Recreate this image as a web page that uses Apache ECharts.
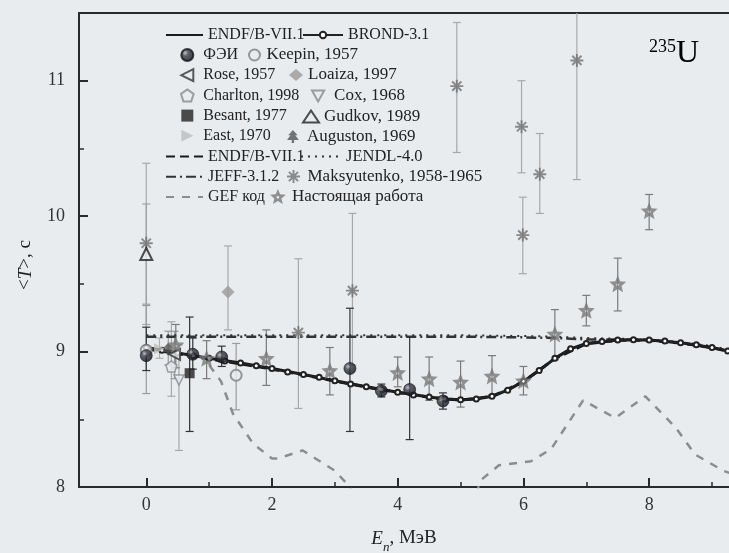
<!DOCTYPE html>
<html>
<head>
<meta charset="utf-8">
<script src="https://cdn.jsdelivr.net/npm/echarts@6/dist/echarts.min.js"></script>
<style>
  html, body { margin: 0; padding: 0; background: #e8ecef; }
  #chart { width: 729px; height: 553px; }
</style>
</head>
<body>
<div id="chart"></div>
<script>
// tick values
const xMajorTicks = [0, 2, 4, 6, 8];
const xMinorTicks = [1, 3, 5, 7, 9];
const yMajorTicks = [8, 9, 10, 11];
const yMinorTicks = [8.5, 9.5, 10.5];

// evaluated curves [E, T]
const endfSolid = [[0,9.03],[0.25,9.01],[0.5,8.99],[0.75,8.97],[1,8.95],[1.5,8.915],[2,8.875],[2.5,8.83],[3,8.785],[3.5,8.74],[4,8.7],[4.5,8.665],[4.75,8.65],[5,8.645],[5.25,8.65],[5.5,8.67],[5.75,8.715],[6,8.78],[6.25,8.86],[6.5,8.95],[6.75,9.02],[7,9.06],[7.5,9.085],[8,9.085],[8.5,9.065],[9,9.03],[9.3,9.0]];
const endfDash = [[0,9.02],[0.5,8.985],[1,8.945],[1.5,8.91],[2,8.87],[2.5,8.828],[3,8.782],[3.5,8.738],[4,8.698],[4.5,8.662],[5,8.642],[5.5,8.668],[6,8.778],[6.5,8.948],[7,9.058],[7.5,9.083],[8,9.083],[8.5,9.063],[9,9.028],[9.3,8.998]];
const brond = [[0,9.03],[0.25,9.01],[0.5,8.99],[0.75,8.97],[1,8.95],[1.25,8.93],[1.5,8.915],[1.75,8.895],[2,8.875],[2.25,8.85],[2.5,8.83],[2.75,8.81],[3,8.785],[3.25,8.76],[3.5,8.74],[3.75,8.72],[4,8.7],[4.25,8.68],[4.5,8.665],[4.75,8.65],[5,8.645],[5.25,8.65],[5.5,8.67],[5.75,8.715],[6,8.78],[6.25,8.86],[6.5,8.95],[6.75,9.02],[7,9.06],[7.25,9.075],[7.5,9.085],[7.75,9.088],[8,9.085],[8.25,9.078],[8.5,9.065],[8.75,9.05],[9,9.03],[9.25,9.005]];
const jendl = [[0,9.12],[1,9.12],[2,9.12],[3,9.12],[4,9.12],[5,9.12],[6,9.115],[6.5,9.11],[7,9.1],[7.5,9.095],[8,9.09],[8.5,9.07],[9,9.04],[9.3,9.01]];
const jeff = [[0,9.11],[1,9.11],[2,9.11],[3,9.11],[4,9.11],[5,9.11],[6,9.105],[6.5,9.1],[7,9.09],[7.5,9.09],[8,9.085],[8.5,9.065],[9,9.03],[9.3,9.0]];
const gef = [[1.0,8.9],[1.19,8.78],[1.38,8.54],[1.7,8.32],[2.0,8.21],[2.09,8.21],[2.49,8.27],[3.0,8.12],[3.22,8.01],[3.3,7.95],[4.2,null],[5.25,7.95],[5.32,8.05],[5.61,8.16],[6.12,8.19],[6.44,8.28],[6.95,8.64],[7.46,8.51],[7.94,8.67],[8.42,8.44],[8.73,8.24],[9.18,8.12],[9.3,8.1]];

// measurements [E, T, low, high]
const fei = [[0,8.97,8.86,9.18],[0.74,8.98,8.87,9.1],[1.2,8.96,8.89,9.04],[3.24,8.875,8.41,9.32],[3.74,8.71,8.665,8.76],[4.19,8.72,8.35,9.11],[4.72,8.635,8.575,8.695]];
const keepin = [[0,9.01,8.69,9.34],[1.43,8.825,8.57,9.06]];
const rose = [[0.45,8.98,8.8,9.15]];
const loaiza = [[1.3,9.44,9.16,9.78]];
const charlton = [[0.4,8.89,8.67,9.22]];
const cox = [[0.52,8.79,8.27,9.05]];
const besant = [[0.69,8.84,8.41,9.255]];
const gudkov = [[0,9.72,9.35,10.09]];
const east = [[0.21,9.02,8.95,9.1]];
const auguston = [[0.35,9.02,8.9,9.15]];
const maks = [[0,9.8,9.2,10.39],[2.42,9.14,8.58,9.685],[3.28,9.45,8.9,10.02],[4.94,10.96,10.47,11.43],[5.97,10.66,10.32,11.0],[5.99,9.86,9.575,10.14],[6.26,10.31,10.02,10.61],[6.85,11.15,10.27,11.7]];
const present = [[0.47,9.05,8.88,9.2],[0.96,8.95,8.8,9.08],[1.91,8.95,8.75,9.16],[2.92,8.86,8.68,9.03],[4.0,8.845,8.74,8.96],[4.5,8.8,8.64,8.96],[5.0,8.775,8.59,8.93],[5.5,8.82,8.68,8.97],[6.0,8.785,8.68,8.89],[6.5,9.13,8.94,9.31],[7.0,9.305,9.19,9.415],[7.5,9.5,9.3,9.69],[8.0,10.04,9.9,10.16]];

const bg = '#e8ecef';
const serif = 'Liberation Serif';
const chart = echarts.init(document.getElementById('chart'));

const starPath = 'path://M0,-10 L2.645,-3.641 L9.511,-3.09 L4.28,1.391 L5.878,8.09 L0,4.5 L-5.878,8.09 L-4.28,1.391 L-9.511,-3.09 L-2.645,-3.641 Z M0,-1.8 L-1.712,-0.556 L-1.058,1.456 L1.058,1.456 L1.712,-0.556 Z';
const asteriskPath = 'path://M-10,-1.5 L10,-1.5 L10,1.5 L-10,1.5 Z M-1.5,-10 L1.5,-10 L1.5,10 L-1.5,10 Z M8.13,6.01 L6.01,8.13 L-8.13,-6.01 L-6.01,-8.13 Z M-8.13,6.01 L6.01,-8.13 L8.13,-6.01 L-6.01,8.13 Z';
const pentagonPath = 'path://M5,0 L10,3.6 L8.1,9.5 L1.9,9.5 L0,3.6 Z';
const leftTriPath = 'path://M10,0 L0,5 L10,10 Z';
const rightTriPath = 'path://M0,0 L10,5 L0,10 Z';
const downTriPath = 'path://M0,0 L10,0 L5,9 Z';
const squarePath = 'path://M0,0 L10,0 L10,10 L0,10 Z';
const treePath = 'path://M5,0 L9,4.5 L7,4.5 L10,8.5 L6,8.5 L6,11 L4,11 L4,8.5 L0,8.5 L3,4.5 L1,4.5 Z';

function errBars(color) {
  return function (params, api) {
    const x = api.value(0), lo = api.value(2), hi = api.value(3);
    const p1 = api.coord([x, hi]), p2 = api.coord([x, lo]);
    const s = { stroke: color, lineWidth: 1.2 };
    const c = 4;
    return {
      type: 'group',
      children: [
        { type: 'line', shape: { x1: p1[0], y1: p1[1], x2: p2[0], y2: p2[1] }, style: s },
        { type: 'line', shape: { x1: p1[0] - c, y1: p1[1], x2: p1[0] + c, y2: p1[1] }, style: s },
        { type: 'line', shape: { x1: p2[0] - c, y1: p2[1], x2: p2[0] + c, y2: p2[1] }, style: s }
      ]
    };
  };
}

function errSeries(name, data, color) {
  return {
    name: name + ' err', type: 'custom', data: data, z: 1, clip: true, silent: true,
    encode: { x: 0, y: [2, 3] }, renderItem: errBars(color)
  };
}

function pointSeries(name, data, symbol, size, itemStyle) {
  return {
    name: name, type: 'scatter', data: data, z: 4, symbol: symbol, symbolSize: size,
    encode: { x: 0, y: 1 }, itemStyle: itemStyle
  };
}

const feiFill = new echarts.graphic.RadialGradient(0.35, 0.35, 0.65, [
  { offset: 0, color: '#b8b8c0' }, { offset: 0.35, color: '#3a3a44' }, { offset: 1, color: '#15151c' }
]);

const series = [
  errSeries('Maksyutenko', maks, '#a8a8a8'),
  errSeries('Keepin', keepin, '#9a9a9a'),
  errSeries('Loaiza', loaiza, '#a8a8a8'),
  errSeries('Charlton', charlton, '#a8a8a8'),
  errSeries('Cox', cox, '#a8a8a8'),
  errSeries('Gudkov', gudkov, '#a0a0a0'),
  errSeries('East', east, '#b0b0b0'),
  errSeries('Auguston', auguston, '#999'),
  errSeries('Rose', rose, '#999'),
  errSeries('present', present, '#7a7a7a'),
  errSeries('Besant', besant, '#333'),
  errSeries('fei', fei, '#333'),
  {
    name: 'GEF код', type: 'line', data: gef, symbol: 'none', z: 2, connectNulls: false,
    lineStyle: { color: '#8c8c8c', width: 2.5, type: [8, 8] }, itemStyle: { color: '#8c8c8c' }
  },
  {
    name: 'JENDL-4.0', type: 'line', data: jendl, symbol: 'none', z: 2,
    lineStyle: { color: '#333', width: 2, type: [2, 5] }, itemStyle: { color: '#333' }
  },
  {
    name: 'JEFF-3.1.2', type: 'line', data: jeff, symbol: 'none', z: 2,
    lineStyle: { color: '#333', width: 2.5, type: [10, 4, 2, 4] }, itemStyle: { color: '#333' }
  },
  {
    name: 'ENDF/B-VII.1', type: 'line', data: endfSolid, symbol: 'none', z: 3,
    lineStyle: { color: '#1a1a1a', width: 3 }, itemStyle: { color: '#1a1a1a' }
  },
  {
    name: 'ENDF/B-VII.1 ', type: 'line', data: endfDash, symbol: 'none', z: 3,
    lineStyle: { color: '#1a1a1a', width: 3, type: [9, 5] }, itemStyle: { color: '#1a1a1a' }
  },
  {
    name: 'BROND-3.1', type: 'line', data: brond, symbol: 'emptyCircle', symbolSize: 5, z: 3,
    lineStyle: { color: '#222', width: 1.5 }, itemStyle: { color: '#222', borderWidth: 1 }
  },
  pointSeries('Maksyutenko, 1958-1965', maks, asteriskPath, 13, { color: '#707070' }),
  pointSeries('Loaiza, 1997', loaiza, 'diamond', 13, { color: '#9a9a9a' }),
  pointSeries('Gudkov, 1989', gudkov, 'triangle', 12, { color: bg, borderColor: '#222', borderWidth: 2 }),
  pointSeries('Keepin, 1957', keepin, 'circle', 11, { color: bg, borderColor: '#808080', borderWidth: 2 }),
  pointSeries('Charlton, 1998', charlton, pentagonPath, 11, { color: bg, borderColor: '#888', borderWidth: 1.5 }),
  pointSeries('Cox, 1968', cox, downTriPath, 10, { color: bg, borderColor: '#888', borderWidth: 1.5 }),
  pointSeries('East, 1970', east, rightTriPath, 11, { color: '#bdbdbd' }),
  pointSeries('Auguston, 1969', auguston, treePath, 12, { color: '#555' }),
  pointSeries('Rose, 1957', rose, leftTriPath, 11, { color: bg, borderColor: '#333', borderWidth: 2 }),
  pointSeries('Besant, 1977', besant, squarePath, 10, { color: '#222' }),
  pointSeries('Настоящая работа', present, starPath, 17, { color: '#787878' }),
  pointSeries('ФЭИ', fei, 'circle', 12, { color: feiFill, borderColor: '#15151c', borderWidth: 0.8 })
];

function legendAt(names, left, top, itemWidth, itemHeight, lineOnly, fontSize) {
  const lg = {
    data: names, left: left, top: top, orient: 'vertical', padding: 0,
    itemWidth: itemWidth, itemHeight: itemHeight, itemGap: 0.2,
    textStyle: { fontFamily: serif, fontSize: fontSize || 16, color: '#222', lineHeight: 20 },
    selectedMode: false
  };
  if (lineOnly) lg.itemStyle = { opacity: 0 };
  return lg;
}
const rowTop = [25, 45, 65, 86, 106.5, 126.5, 146.5, 166.5, 186.5];
const legends = [
  legendAt(['ENDF/B-VII.1'], 165, rowTop[0], 37, 14, true),
  legendAt(['ФЭИ', 'Rose, 1957', 'Charlton, 1998', 'Besant, 1977', 'East, 1970'], 180, rowTop[1], 22, 12),
  legendAt(['ENDF/B-VII.1 ', 'JEFF-3.1.2', 'GEF код'], 165, rowTop[6], 37, 14, true),
  legendAt(['BROND-3.1'], 302, rowTop[0], 40, 8),
  legendAt(['Keepin, 1957'], 248, rowTop[1], 14, 11, false, 17),
  legendAt(['Loaiza, 1997'], 289, rowTop[2], 14, 12, false, 17),
  legendAt(['Cox, 1968'], 311, rowTop[3], 22, 11, false, 17),
  legendAt(['Gudkov, 1989'], 302, rowTop[4], 16, 12, false, 17),
  legendAt(['Auguston, 1969'], 287, rowTop[5], 18, 13, false, 17),
  legendAt(['JENDL-4.0'], 300, rowTop[6], 40, 14, true, 16.5),
  legendAt(['Maksyutenko, 1958-1965'], 287, rowTop[7], 18, 13, false, 17),
  legendAt(['Настоящая работа'], 270, rowTop[8], 18, 15, false, 17)
];

const axisLine = { onZero: false, lineStyle: { color: '#2a2a2a', width: 2 } };
const option = {
  backgroundColor: bg,
  animation: false,
  grid: { left: 79, right: 0, top: 13, bottom: 66, containLabel: false, outerBoundsMode: 'none' },
  legend: legends,
  xAxis: [
    {
      type: 'value', min: -1.07, max: 9.27, position: 'bottom',
      axisLine: axisLine, splitLine: { show: false },
      axisTick: { inside: true, length: 9, lineStyle: { color: '#2a2a2a', width: 2 }, customValues: xMajorTicks },
      axisLabel: { customValues: xMajorTicks, margin: 9, fontFamily: serif, fontSize: 18, color: '#333' },
      name: '{i|E}{sub|n}, МэВ', nameLocation: 'middle', nameGap: 42,
      nameTextStyle: {
        fontFamily: serif, fontSize: 19, color: '#222',
        rich: {
          i: { fontFamily: serif, fontSize: 19, fontStyle: 'italic', color: '#222' },
          sub: { fontFamily: serif, fontSize: 13, fontStyle: 'italic', color: '#222', verticalAlign: 'bottom', padding: [0, 0, -6, 0] }
        }
      }
    },
    {
      type: 'value', min: -1.07, max: 9.27, position: 'bottom',
      axisLine: { show: false, onZero: false }, splitLine: { show: false }, axisLabel: { show: false },
      axisTick: { inside: true, length: 5, lineStyle: { color: '#2a2a2a', width: 1.5 }, customValues: xMinorTicks }
    },
    {
      type: 'value', min: -1.07, max: 9.27, position: 'top',
      axisLine: axisLine, splitLine: { show: false }, axisLabel: { show: false }, axisTick: { show: false }
    }
  ],
  yAxis: [
    {
      type: 'value', min: 8, max: 11.5, position: 'left',
      axisLine: axisLine, splitLine: { show: false },
      axisTick: { inside: true, length: 9, lineStyle: { color: '#2a2a2a', width: 2 }, customValues: yMajorTicks },
      axisLabel: { customValues: yMajorTicks, margin: 14, fontFamily: serif, fontSize: 18, color: '#333' },
      name: '<{i|T}>, c', nameLocation: 'middle', nameGap: 44, nameRotate: 90,
      nameTextStyle: {
        fontFamily: serif, fontSize: 19, color: '#222', padding: [0, 30, 0, 0],
        rich: { i: { fontFamily: serif, fontSize: 19, fontStyle: 'italic', color: '#222' } }
      }
    },
    {
      type: 'value', min: 8, max: 11.5, position: 'left',
      axisLine: { show: false, onZero: false }, splitLine: { show: false }, axisLabel: { show: false },
      axisTick: { inside: true, length: 5, lineStyle: { color: '#2a2a2a', width: 1.5 }, customValues: yMinorTicks }
    }
  ],
  graphic: [
    {
      type: 'text', left: 649, top: 38,
      style: {
        text: '{s|235}{u|U}',
        rich: {
          s: { fontFamily: serif, fontSize: 18, color: '#222', verticalAlign: 'top' },
          u: { fontFamily: serif, fontSize: 32, color: '#222' }
        }
      }
    }
  ],
  series: series
};
chart.setOption(option);
</script>
</body>
</html>
